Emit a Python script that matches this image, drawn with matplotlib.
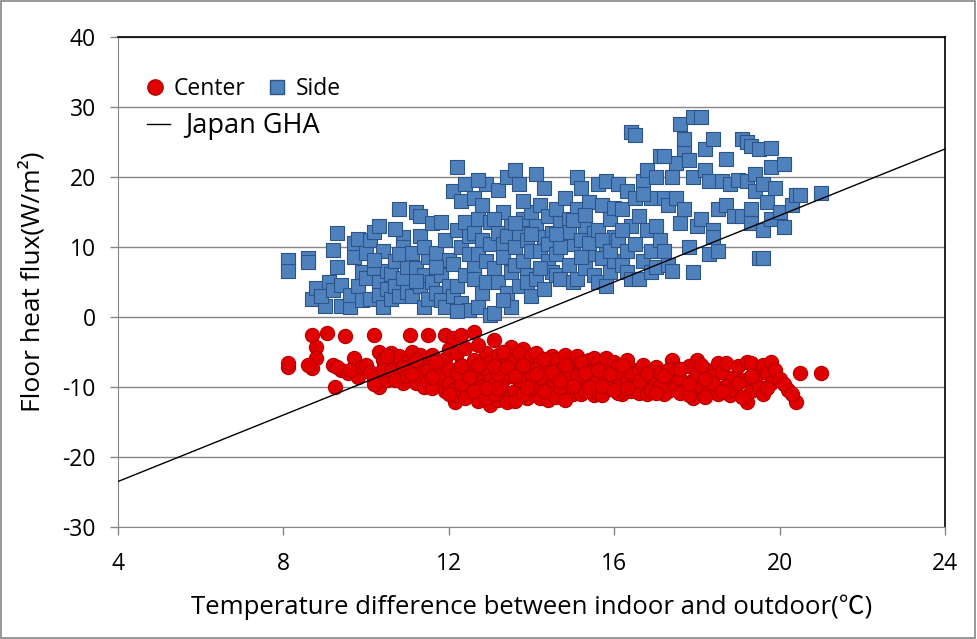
import matplotlib
matplotlib.use("Agg")
import matplotlib.pyplot as plt
from matplotlib.lines import Line2D
from matplotlib.patches import Rectangle

plt.rcParams['font.family'] = ['Open Sans', 'Noto Sans CJK KR', 'DejaVu Sans']
plt.rcParams['axes.unicode_minus'] = False

# ---- data ----
side_x = [
    8.1, 8.1,
    8.6, 8.6, 8.7, 8.8, 9.0, 8.9,
    9.1, 9.2, 9.3, 9.2, 9.4, 9.3, 9.4,
    9.6, 9.6, 9.7, 9.7, 9.8, 9.8, 9.9, 10.0, 10.0, 9.9,
    10.1, 10.1, 10.2, 10.2, 10.3, 10.3, 10.3, 10.4, 10.4, 10.5, 10.5, 10.2,
    10.6, 10.6, 10.7, 10.7, 10.8, 10.8, 10.9, 10.9, 10.9, 11.0, 11.0, 10.7, 10.8,
    11.1, 11.1, 11.2, 11.2, 11.3, 11.3, 11.3, 11.4, 11.4, 11.5, 11.5, 11.2, 11.4,
    11.6, 11.6, 11.7, 11.7, 11.8, 11.8, 11.8, 11.9, 11.9, 12.0, 11.7, 12.0,
    12.1, 12.1, 12.1, 12.2, 12.2, 12.2, 12.3, 12.3, 12.3, 12.4, 12.4, 12.4, 12.5, 12.5, 12.2, 12.5,
    12.6, 12.6, 12.6, 12.6, 12.7, 12.7, 12.7, 12.8, 12.8, 12.8, 12.9, 12.9, 13.0, 13.0, 12.9, 12.7, 13.0,
    13.1, 13.1, 13.2, 13.2, 13.2, 13.3, 13.3, 13.3, 13.4, 13.4, 13.5, 13.5, 13.4, 13.1, 13.5, 13.3,
    13.6, 13.6, 13.6, 13.7, 13.7, 13.7, 13.8, 13.8, 13.9, 13.9, 14.0, 14.0, 13.8, 13.6, 14.0, 13.9,
    14.1, 14.1, 14.1, 14.2, 14.2, 14.3, 14.3, 14.3, 14.4, 14.4, 14.5, 14.5, 14.2, 14.4, 14.0,
    14.6, 14.6, 14.6, 14.7, 14.7, 14.8, 14.8, 14.9, 14.9, 15.0, 15.0, 14.7, 14.9, 14.6,
    15.1, 15.1, 15.1, 15.2, 15.2, 15.3, 15.3, 15.4, 15.4, 15.5, 15.5, 15.2, 15.4, 15.0, 15.3,
    15.6, 15.6, 15.6, 15.7, 15.7, 15.8, 15.8, 15.8, 15.9, 15.9, 16.0, 16.0, 15.7, 15.9, 16.0,
    16.1, 16.1, 16.2, 16.2, 16.3, 16.3, 16.3, 16.4, 16.4, 16.4, 16.5, 16.5, 16.2, 16.5,
    16.6, 16.6, 16.7, 16.7, 16.8, 16.8, 16.9, 16.9, 16.9, 17.0, 17.0, 16.7, 17.0,
    17.1, 17.1, 17.2, 17.2, 17.3, 17.3, 17.4, 17.4, 17.5, 17.5, 17.2,
    17.6, 17.6, 17.7, 17.7, 17.8, 17.8, 17.9, 17.9, 17.9, 18.0, 17.7,
    18.1, 18.1, 18.2, 18.2, 18.3, 18.3, 18.4, 18.4, 18.5, 18.5, 18.4,
    18.6, 18.7, 18.7, 18.8, 18.9,
    19.0, 19.1, 19.1, 19.2, 19.2, 19.3, 19.3, 19.4, 19.4, 19.3,
    19.5, 19.5, 19.6, 19.6, 19.7, 19.8, 19.8, 19.8, 19.9, 20.0, 19.6,
    20.1, 20.1, 20.3, 20.4,
    20.5, 21.0,
]
side_y = [
    8.2, 6.6,
    8.4, 7.8, 2.6, 4.1, 1.6, 3.0,
    5.0, 9.6, 12.0, 3.8, 4.6, 7.2, 1.6,
    1.5, 3.2, 8.6, 10.6, 4.4, 11.1, 6.5, 9.2, 5.6, 2.4,
    11.0, 2.6, 12.1, 7.0, 13.0, 5.0, 3.1, 1.5, 9.5, 6.6, 4.0, 8.2,
    6.1, 2.6, 8.0, 4.5, 15.5, 3.0, 11.5, 10.0, 5.6, 7.1, 3.6, 12.6, 9.0,
    9.1, 3.0, 15.0, 7.0, 14.4, 11.6, 4.5, 6.0, 1.5, 8.6, 2.6, 5.2, 10.0,
    13.5, 5.0, 9.1, 3.5, 13.6, 6.0, 2.4, 11.0, 1.5, 8.1, 7.2, 4.4,
    18.0, 7.6, 3.0, 21.5, 12.5, 4.5, 16.6, 10.0, 2.0, 19.0, 13.6, 6.0, 1.0, 9.0, 0.8, 11.6,
    17.0, 12.0, 7.0, 5.5, 14.0, 9.0, 1.5, 11.0, 16.0, 3.5, 8.0, 19.0, 13.6, 0.3, 5.0, 19.6, 10.5,
    0.6, 7.0, 12.0, 5.0, 18.1, 10.5, 15.0, 8.6, 3.5, 20.0, 13.0, 1.5, 11.6, 14.0, 6.4, 2.4,
    21.0, 10.0, 7.5, 19.0, 12.0, 4.5, 14.0, 8.0, 6.0, 11.0, 15.0, 3.0, 16.6, 13.4, 9.4, 5.0,
    20.5, 13.0, 5.5, 16.0, 9.5, 18.5, 11.5, 4.0, 8.0, 14.5, 12.0, 6.5, 7.0, 10.4, 11.8,
    15.5, 9.0, 6.0, 13.5, 5.5, 11.0, 17.0, 7.5, 14.0, 10.5, 5.0, 10.0, 12.2, 11.8,
    20.0, 15.5, 5.5, 18.5, 11.0, 13.0, 7.0, 9.0, 16.5, 12.0, 6.0, 8.6, 10.6, 13.8, 14.6,
    19.0, 12.5, 5.0, 16.0, 8.5, 19.5, 10.5, 4.5, 14.0, 6.5, 11.5, 8.0, 11.0, 9.4, 15.6,
    19.0, 11.0, 15.5, 7.5, 18.0, 9.5, 6.5, 13.0, 26.5, 5.5, 26.0, 17.0, 12.4, 10.5,
    14.5, 5.5, 19.5, 8.0, 21.0, 12.5, 17.0, 9.5, 6.5, 20.0, 13.0, 17.6, 7.2,
    23.0, 11.0, 17.0, 9.5, 16.0, 7.5, 20.0, 6.6, 22.0, 17.0, 23.0,
    27.6, 13.5, 24.0, 15.5, 22.5, 10.0, 28.6, 20.0, 6.4, 13.0, 25.4,
    28.6, 14.0, 24.0, 21.0, 19.5, 9.0, 25.4, 12.5, 15.5, 9.5, 11.5,
    19.5, 22.6, 16.0, 19.0, 14.5,
    19.6, 25.4, 14.5, 25.0, 19.5, 24.5, 15.5, 20.5, 18.0, 13.5,
    8.5, 24.0, 19.0, 12.5, 16.5, 14.0, 24.1, 21.5, 18.5, 15.0, 8.4,
    21.8, 12.8, 16.0, 17.5,
    17.4, 17.7,
]

center_x = [
    8.1, 8.1,
    8.7, 8.8, 8.8, 8.7, 8.6,
    9.05, 9.2, 9.25, 9.4, 9.3,
    9.5, 9.7, 9.56, 9.8, 9.9, 9.6,
    10.0, 10.2, 10.3, 10.3, 10.2, 10.1, 10.4, 10.5, 10.4, 10.2,
    10.6, 10.7, 10.8, 10.9, 10.6, 10.8, 11.0, 10.9, 10.7, 11.0,
    11.06, 11.1, 11.2, 11.3, 11.4, 11.2, 11.5, 11.3, 11.5, 11.4, 11.1, 11.5,
    11.9, 11.6, 11.7, 11.8, 11.9, 11.6, 12.0, 11.8, 12.0, 11.7, 11.9, 12.0,
    12.1, 12.3, 12.15, 12.2, 12.3, 12.4, 12.1, 12.4, 12.2, 12.5, 12.5, 12.3, 12.4, 12.2,
    12.6, 12.6, 12.7, 12.8, 12.9, 12.7, 12.8, 12.6, 12.9, 13.0, 12.7, 13.0, 12.9, 12.6, 13.0,
    13.1, 13.2, 13.3, 13.1, 13.4, 13.2, 13.5, 13.3, 13.4, 13.5, 13.1, 13.5, 13.2, 13.4, 13.3,
    13.8, 13.6, 13.7, 13.8, 13.6, 13.9, 13.7, 14.0, 13.9, 13.6, 14.0, 13.8, 13.7, 14.0,
    14.1, 14.2, 14.3, 14.1, 14.4, 14.2, 14.5, 14.3, 14.4, 14.5, 14.1, 14.4, 14.2,
    14.6, 14.7, 14.8, 14.9, 14.6, 14.8, 15.0, 14.7, 14.9, 15.0, 14.6, 14.8,
    15.1, 15.2, 15.3, 15.1, 15.4, 15.2, 15.5, 15.3, 15.4, 15.5, 15.1, 15.5,
    15.6, 15.7, 15.8, 15.6, 15.9, 15.8, 16.0, 15.7, 15.9, 16.0, 15.6,
    16.1, 16.2, 16.3, 16.1, 16.4, 16.2, 16.5, 16.3, 16.5, 16.4, 16.1,
    16.6, 16.7, 16.8, 16.9, 16.6, 17.0, 16.8, 17.0, 16.7, 16.9,
    17.1, 17.2, 17.3, 17.4, 17.4, 17.2, 17.5, 17.5, 17.1, 17.3,
    17.6, 17.7, 17.8, 17.9, 17.9, 18.0, 17.6, 18.0, 17.8,
    18.1, 18.2, 18.3, 18.4, 18.5, 18.5, 18.2, 18.4, 18.1,
    18.6, 18.7, 18.8, 18.9, 18.7, 18.9, 19.0,
    19.2, 19.1, 19.2, 19.3, 19.4, 19.4, 19.1, 19.3, 19.5,
    19.6, 19.7, 19.8, 19.8, 19.6, 19.9, 20.0, 19.7,
    20.2, 20.1, 20.4, 20.3,
    20.5, 21.0,
    12.3, 12.5, 12.7, 12.9, 13.1, 13.2, 13.4, 13.6, 13.8, 13.9,
    14.1, 14.3, 14.3, 14.5, 14.7, 14.8, 15.0, 15.2, 15.3, 15.4,
    15.6, 15.7, 15.9, 16.0, 16.2, 16.3, 16.6, 16.8, 17.0, 17.2,
    17.6, 17.8, 18.2, 18.6, 19.0, 19.3, 11.6, 11.2, 10.5, 12.0,
]
center_y = [
    -7.1, -6.5,
    -2.6, -4.3, -5.9, -7.3, -6.8,
    -2.3, -6.9, -10.0, -7.6, -7.2,
    -2.7, -5.9, -8.0, -8.6, -7.2, -7.5,
    -6.9, -2.6, -5.0, -10.0, -8.7, -7.8, -6.2, -9.0, -7.4, -9.6,
    -5.2, -6.6, -8.0, -9.4, -7.6, -5.6, -6.4, -7.2, -9.0, -8.4,
    -2.6, -5.0, -7.0, -8.6, -6.0, -9.4, -2.6, -5.4, -7.6, -10.0, -8.2, -9.2,
    -2.6, -5.4, -7.2, -9.0, -6.0, -10.2, -4.6, -8.0, -7.4, -6.4, -10.6, -9.4,
    -3.0, -2.6, -12.1, -5.2, -6.8, -8.8, -10.4, -4.4, -11.2, -7.4, -10.0, -9.6, -11.6, -8.0,
    -2.1, -6.2, -8.6, -11.0, -5.2, -12.0, -9.8, -10.6, -7.4, -12.5, -4.0, -9.0, -11.6, -7.6, -6.4,
    -3.3, -5.4, -7.6, -9.6, -10.8, -11.8, -4.3, -9.0, -6.4, -8.4, -11.0, -11.4, -8.2, -12.2, -5.0,
    -4.5, -6.0, -7.8, -9.4, -10.6, -11.6, -5.2, -8.6, -6.6, -12.0, -10.2, -11.0, -9.0, -5.6,
    -5.2, -6.6, -8.0, -9.6, -10.8, -11.6, -5.6, -9.2, -7.2, -10.0, -7.4, -11.8, -8.6,
    -6.0, -7.6, -9.0, -10.4, -11.4, -5.4, -6.6, -10.0, -8.2, -11.0, -8.6, -11.8,
    -5.6, -7.2, -8.8, -10.2, -6.2, -11.0, -9.4, -10.6, -7.8, -5.8, -8.4, -11.2,
    -6.4, -8.0, -9.6, -10.8, -7.0, -5.8, -8.6, -11.2, -10.2, -6.4, -9.0,
    -7.0, -8.4, -6.1, -9.8, -10.6, -11.0, -7.6, -9.0, -9.8, -8.0, -10.8,
    -7.6, -9.0, -10.4, -8.2, -10.8, -7.2, -11.0, -9.6, -6.8, -10.6,
    -8.0, -9.4, -10.6, -6.1, -8.6, -11.0, -7.4, -10.0, -9.8, -7.6,
    -8.8, -10.4, -7.0, -11.6, -9.0, -6.1, -10.8, -8.0, -11.2,
    -9.8, -7.4, -10.6, -8.4, -6.6, -11.0, -11.4, -9.4, -6.8,
    -7.8, -9.8, -11.2, -8.6, -6.6, -10.4, -7.0,
    -6.4, -9.0, -12.1, -10.6, -7.6, -8.8, -11.4, -6.6, -10.0,
    -6.8, -8.0, -6.4, -9.4, -11.0, -7.6, -8.8, -10.2,
    -10.4, -9.6, -12.1, -11.0,
    -8.0, -8.0,
    -7.0, -8.6, -6.8, -10.2, -7.0, -10.2, -7.2, -8.4, -6.8, -10.0,
    -8.2, -6.0, -10.6, -7.8, -9.2, -6.8, -9.8, -6.4, -8.0, -10.0,
    -7.6, -9.8, -8.2, -10.4, -6.8, -10.2, -9.2, -8.0, -10.8, -8.4,
    -7.4, -9.6, -8.8, -10.6, -9.4, -8.4, -8.6, -6.2, -5.6, -11.0,
]

# Japan GHA reference line (end points)
gha_x = [4, 24]
gha_y = [-23.5, 24]

x_ticks = [4, 8, 12, 16, 20, 24]
y_ticks = [-30, -20, -10, 0, 10, 20, 30, 40]

grey = '#868686'

fig = plt.figure(figsize=(9.78, 6.39), dpi=100)
ax = fig.add_axes([118 / 978, 112 / 639, 827 / 978, 490 / 639])

ax.set_xlim(4, 24)
ax.set_ylim(-30, 40)
ax.set_xticks(x_ticks)
ax.set_yticks(y_ticks)
ax.grid(axis='y', color=grey, lw=1.0, zorder=0)
ax.set_axisbelow(True)

ax.scatter(center_x, center_y, s=105, marker='o', color='#e00000',
           edgecolors='#b80000', linewidths=0.8, zorder=3, label='Center')
ax.scatter(side_x, side_y, s=95, marker='s', color='#4f81bd',
           edgecolors='#2c5487', linewidths=0.8, zorder=3, label='Side')
ax.plot(gha_x, gha_y, color='black', lw=1.0, zorder=4, label='Japan GHA')

for s in ['left', 'bottom']:
    ax.spines[s].set_color(grey)
for s in ['top', 'right']:
    ax.spines[s].set_color('black')
    ax.spines[s].set_linewidth(1.2)

ax.tick_params(axis='both', colors=grey, length=6, width=1, direction='out',
               labelsize=16.5, labelcolor='black')
ax.tick_params(axis='y', pad=10)
ax.tick_params(axis='x', pad=12)

ax.set_xlabel('Temperature difference between indoor and outdoor(℃)',
              fontsize=18.5, labelpad=13)
ax.set_ylabel('Floor heat flux(W/m²)', fontsize=19, labelpad=12)

# legend: Center / Side on one row, Japan GHA below
h_c = Line2D([], [], marker='o', ls='', color='#e00000', markeredgecolor='#b80000', markersize=11)
h_s = Line2D([], [], marker='s', ls='', color='#4f81bd', markeredgecolor='#2c5487', markersize=10)
h_g = Line2D([], [], color='black', lw=1.0)
leg1 = ax.legend([h_c, h_s], ['Center', 'Side'], ncol=2, loc='center left',
                 bbox_to_anchor=(0.031, 0.893), frameon=False, fontsize=16.5,
                 borderpad=0, handlelength=1.0, handletextpad=0.3,
                 columnspacing=0.9, borderaxespad=0)
ax.add_artist(leg1)
ax.legend([h_g], ['Japan GHA'], loc='center left',
          bbox_to_anchor=(0.035, 0.818), frameon=False, fontsize=19.5,
          borderpad=0, handlelength=0.85, handletextpad=0.55, borderaxespad=0)

# thin chart border
fig.patches.append(Rectangle((0.001, 0.002), 0.996, 0.996, transform=fig.transFigure,
                             fill=False, edgecolor=grey, lw=1.2))

fig.savefig('out.png', dpi=100)
